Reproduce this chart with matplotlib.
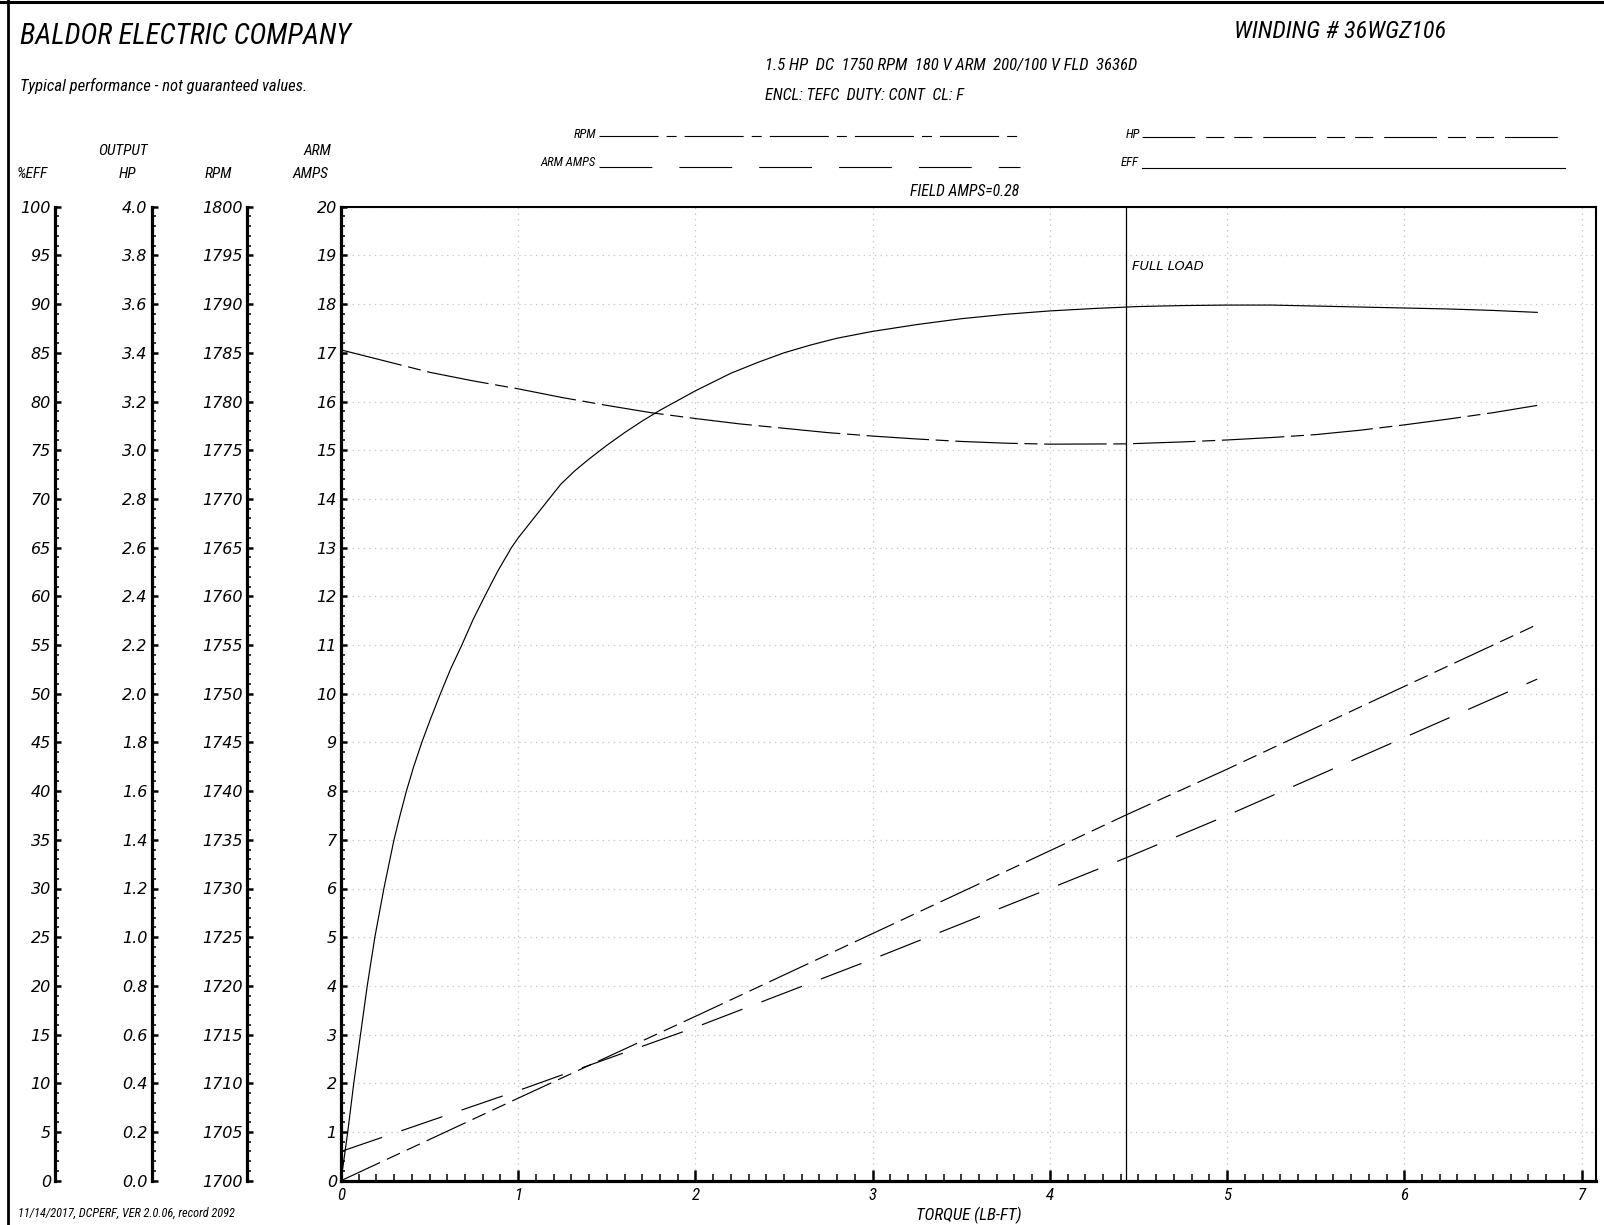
import matplotlib
matplotlib.use("Agg")
import matplotlib.pyplot as plt
from matplotlib import font_manager as fm
from matplotlib.lines import Line2D
from matplotlib.ticker import MultipleLocator, FormatStrFormatter

plt.rcParams['font.style'] = 'italic'
plt.rcParams['lines.scale_dashes'] = False

# values (torque in lb-ft)
eff_torque = [0, 0.038, 0.072, 0.110, 0.148, 0.191, 0.242, 0.299, 0.33, 0.369,
              0.41, 0.456, 0.505, 0.561, 0.62, 0.682, 0.745, 0.811, 0.885, 0.962,
              1.0, 1.1, 1.17, 1.24, 1.32, 1.4, 1.5, 1.6, 1.7, 1.8,
              1.9, 2.0, 2.1, 2.2, 2.35, 2.5, 2.65, 2.8, 3.0, 3.25,
              3.5, 3.75, 4.0, 4.25, 4.5, 4.75, 5.0, 5.25, 5.5, 5.75,
              6.0, 6.25, 6.5, 6.75]
eff_pct = [0, 5, 10, 15, 20, 25, 30, 35, 37.3, 40,
           42.5, 45, 47.4, 50, 52.6, 55, 57.6, 60, 62.6, 65,
           66.0, 68.3, 69.9, 71.5, 72.9, 74.1, 75.5, 76.8, 78.0, 79.1,
           80.1, 81.1, 82.0, 82.9, 84.0, 85.0, 85.8, 86.5, 87.2, 87.9,
           88.5, 88.95, 89.3, 89.55, 89.75, 89.85, 89.9, 89.9, 89.8, 89.7,
           89.6, 89.5, 89.35, 89.15]

rpm_torque = [0, 0.25, 0.5, 0.75, 1.0, 1.25, 1.5, 1.75, 2.0, 2.25,
              2.5, 2.75, 3.0, 3.25, 3.5, 3.75, 4.0, 4.43, 4.75, 5.0,
              5.25, 5.5, 5.75, 6.0, 6.25, 6.5, 6.75]
rpm_speed = [1785.3, 1784.15, 1783.0, 1782.1, 1781.3, 1780.4, 1779.6, 1778.85, 1778.25, 1777.7,
             1777.25, 1776.8, 1776.45, 1776.15, 1775.9, 1775.72, 1775.62, 1775.65, 1775.85, 1776.05,
             1776.3, 1776.6, 1777.05, 1777.6, 1778.2, 1778.85, 1779.6]

hp_torque = [0, 1, 2, 3, 4, 4.43, 5, 6, 6.75]
hp_output = [0, 0.339, 0.675, 1.015, 1.355, 1.502, 1.69, 2.03, 2.284]

arm_torque = [0, 1, 2, 3, 4, 4.43, 5, 6, 6.75]
arm_amps = [0.6, 1.85, 3.15, 4.55, 6.0, 6.63, 7.5, 9.1, 10.3]

full_load_torque = 4.43

W, H = 1604, 1225


def pick_narrow():
    narrow = {f.name for f in fm.fontManager.ttflist if 'condensed' in str(f.stretch)}
    for name in ['Liberation Sans Narrow', 'Roboto Condensed', 'Open Sans Condensed',
                 'Noto Sans Condensed', 'DejaVu Sans Condensed', 'Noto Sans',
                 'Open Sans', 'DejaVu Sans']:
        if name in narrow:
            return name
    return 'Liberation Sans'


NARROW = dict(family=pick_narrow(), fontstretch='condensed', style='italic')

fig = plt.figure(figsize=(W / 100, H / 100), dpi=100)
renderer = fig.canvas.get_renderer()


def put(x, y, s, width=None, size=10, grow=1.0, **kw):
    t = fig.text(x / W, 1 - y / H, s, fontsize=size, **kw)
    if width:
        bb = t.get_window_extent(renderer)
        t.set_fontsize(size * width / bb.width * grow)
    return t


# page border
fig.add_artist(Line2D([7.5 / W, 7.5 / W], [0, 1], transform=fig.transFigure, color='black', lw=2))
fig.add_artist(Line2D([0, 1], [1 - 1.5 / H] * 2, transform=fig.transFigure, color='black', lw=2.2))

# header
put(20, 36, 'BALDOR ELECTRIC COMPANY', width=330, size=20, va='center', **NARROW)
put(20, 86, 'Typical performance - not guaranteed values.', width=287, size=12, va='center', **NARROW)
put(1234, 31, 'WINDING # 36WGZ106', width=213, size=16, va='center', **NARROW)
put(765, 65.5, '1.5 HP  DC  1750 RPM  180 V ARM  200/100 V FLD  3636D', width=372, size=11,
    va='center', **NARROW)
put(765, 96, 'ENCL: TEFC  DUTY: CONT  CL: F', width=198, size=11, va='center', **NARROW)

# column headings
hd = put(123, 151, 'OUTPUT', width=42, size=9, grow=1.18, ha='center', va='center',
         **NARROW).get_fontsize()
put(17, 174, '%EFF', size=hd, va='center', **NARROW)
put(127, 174, 'HP', size=hd, ha='center', va='center', **NARROW)
put(218, 174, 'RPM', size=hd, ha='center', va='center', **NARROW)
put(317, 151, 'ARM', size=hd, ha='center', va='center', **NARROW)
put(310, 174, 'AMPS', size=hd, ha='center', va='center', **NARROW)

# line key
ks = put(596, 163, 'ARM AMPS', width=48, size=7, grow=1.15, ha='right', va='center',
         **NARROW).get_fontsize()
put(596, 134, 'RPM', size=ks, ha='right', va='center', **NARROW)
put(1140, 134, 'HP', size=ks, ha='right', va='center', **NARROW)
put(1139, 163, 'EFF', size=ks, ha='right', va='center', **NARROW)


def key_line(x0, x1, y, dashes=None):
    ln = Line2D([x0 / W, x1 / W], [1 - y / H] * 2, transform=fig.transFigure,
                color='black', lw=0.8)
    if dashes:
        ln.set_dashes(dashes)
    fig.add_artist(ln)


key_line(599, 1020, 136, (42.5, 5.8, 7.2, 5.8))
key_line(599, 1020, 166.5, (38, 19.5))
key_line(1142, 1560, 136.5, (38, 7.9, 13, 7.2, 13, 7.9))
key_line(1142, 1565, 168)

put(1019, 192, 'FIELD AMPS=0.28', width=104, size=9, grow=1.05, ha='right', va='center', **NARROW)
put(18, 1213, '11/14/2017, DCPERF, VER 2.0.06, record 2092', width=202, size=8, grow=1.08,
    va='center', **NARROW)
xs = put(969, 1215, 'TORQUE (LB-FT)', width=106, size=10, ha='center', va='center',
         **NARROW).get_fontsize()

# main axes (ARM AMPS scale)
ax = fig.add_axes([341 / W, 1 - 1180.7 / H, (1595.7 - 341) / W, (1180.7 - 206.7) / H])
ax.set_xlim(0, 7.08)
ax.set_ylim(0, 20)
ax.xaxis.set_major_locator(MultipleLocator(1))
ax.xaxis.set_minor_locator(MultipleLocator(0.1))
ax.yaxis.set_major_locator(MultipleLocator(1))
ax.yaxis.set_minor_locator(MultipleLocator(0.2))
ax.grid(True, which='major', color='#c8c8c8', linestyle=(0, (1, 3)), linewidth=0.9)
ax.set_axisbelow(True)
for s in ['left', 'bottom']:
    ax.spines[s].set_linewidth(2.3)
for s in ['top', 'right']:
    ax.spines[s].set_linewidth(1.5)
ax.tick_params(axis='x', which='major', direction='in', length=8, width=1.8, pad=5)
ax.tick_params(axis='x', which='minor', direction='in', length=5, width=1.1)
ax.tick_params(axis='y', which='major', direction='in', length=4.5, width=1.8, pad=3,
               labelsize=11.5)
ax.tick_params(axis='y', which='minor', direction='in', length=3, width=1.1)
for lab in ax.get_xticklabels():
    lab.set_family(NARROW['family'])
    lab.set_stretch('condensed')
    lab.set_fontsize(xs)

ax.plot(arm_torque, arm_amps, color='black', lw=0.85, dashes=(31.3, 14.6))
ax.axvline(full_load_torque, color='black', lw=0.9)
ax.annotate('FULL LOAD', xy=(full_load_torque, 18.78), xytext=(4, 0),
            textcoords='offset points', va='center', ha='left', fontsize=9.4)


def side_axis(pos, lo, hi, major, minor, fmt):
    a = ax.twinx()
    a.set_ylim(lo, hi)
    for s in ['top', 'right', 'bottom']:
        a.spines[s].set_visible(False)
    a.spines['left'].set_visible(True)
    a.spines['left'].set_position(('axes', pos))
    a.spines['left'].set_linewidth(2.3)
    a.yaxis.set_ticks_position('left')
    a.yaxis.set_major_locator(MultipleLocator(major))
    a.yaxis.set_minor_locator(MultipleLocator(minor))
    a.yaxis.set_major_formatter(FormatStrFormatter(fmt))
    a.tick_params(axis='y', which='major', direction='in', length=4.5, width=1.8, pad=3,
                  labelsize=11.5)
    a.tick_params(axis='y', which='minor', direction='in', length=3, width=1.1)
    return a


ax_eff = side_axis((55 - 341) / 1254.7, 0, 100, 5, 1, '%d')
ax_hp = side_axis((151.7 - 341) / 1254.7, 0, 4, 0.2, 0.04, '%.1f')
ax_rpm = side_axis((247.3 - 341) / 1254.7, 1700, 1800, 5, 1, '%d')

ax_eff.plot(eff_torque, eff_pct, color='black', lw=0.85)
ax_rpm.plot(rpm_torque, rpm_speed, color='black', lw=0.85, dashes=(45, 4.8, 9.4, 4.8))
ax_hp.plot(hp_torque, hp_output, color='black', lw=0.85,
           dashes=(31, 5.4, 10.4, 5.4, 10.4, 5.4))

fig.savefig('out.png', dpi=100)
